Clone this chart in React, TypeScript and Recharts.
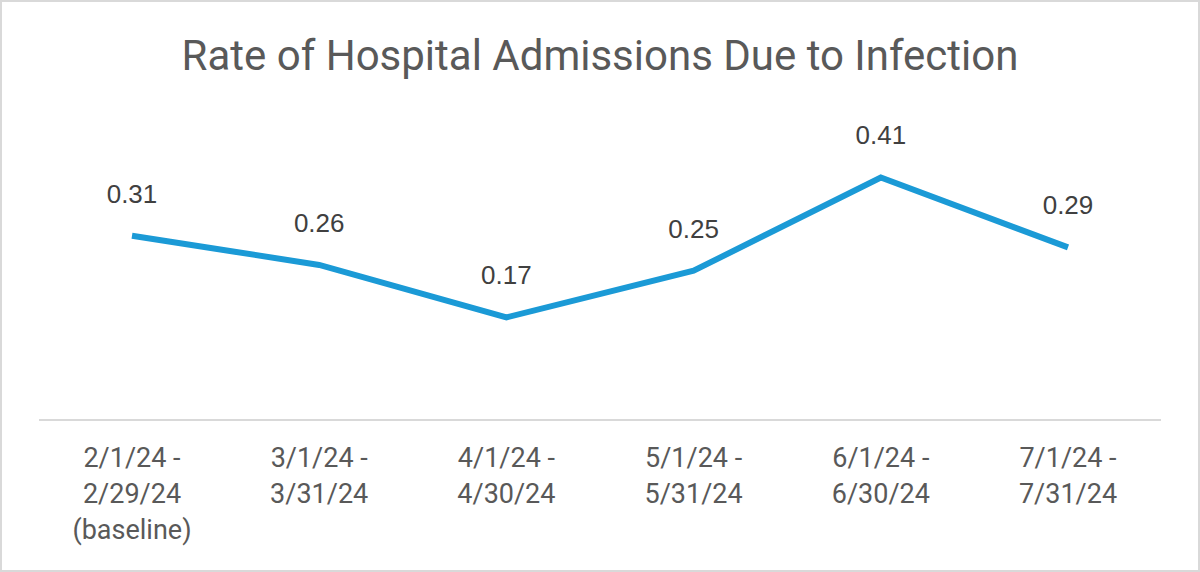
import React from 'react';
import { LineChart, Line, XAxis, YAxis, LabelList } from 'recharts';

const periods = ['feb', 'mar', 'apr', 'may', 'jun', 'jul'];
const periodLabels = [
  ['2/1/24 -', '2/29/24', '(baseline)'],
  ['3/1/24 -', '3/31/24'],
  ['4/1/24 -', '4/30/24'],
  ['5/1/24 -', '5/31/24'],
  ['6/1/24 -', '6/30/24'],
  ['7/1/24 -', '7/31/24'],
];
const rates = [0.31, 0.26, 0.17, 0.25, 0.41, 0.29];

const data = periods.map((p, i) => ({ period: p, rate: rates[i] }));

const FONT = 'Roboto, "Noto Sans", sans-serif';

function PeriodTick(props: any) {
  const { x, y, payload } = props;
  const lines = periodLabels[periods.indexOf(payload.value)] || [];
  return (
    <text x={x} y={y} textAnchor="middle" fill="#595959" fontSize={27} fontFamily={FONT}>
      {lines.map((l, i) => (
        <tspan key={i} x={x} dy={i === 0 ? 47 : 36}>
          {l}
        </tspan>
      ))}
    </text>
  );
}

export default function App() {
  return (
    <div
      style={{
        position: 'fixed',
        left: 0,
        top: 0,
        width: 1200,
        height: 572,
        boxSizing: 'border-box',
        border: '2px solid #d9d9d9',
        background: '#fff',
      }}
    >
      <div
        style={{
          position: 'absolute',
          left: 0,
          right: 0,
          top: 29,
          textAlign: 'center',
          fontFamily: FONT,
          fontSize: 42,
          color: '#595959',
          lineHeight: '50px',
        }}
      >
        Rate of Hospital Admissions Due to Infection
      </div>
      <LineChart
        width={1196}
        height={568}
        data={data}
        margin={{ top: 123, right: 37, left: 37, bottom: 0 }}
      >
        <XAxis
          dataKey="period"
          height={150}
          tickSize={0}
          tickMargin={0}
          tickLine={false}
          padding={{ left: 93, right: 93 }}
          axisLine={{ stroke: '#d9d9d9', strokeWidth: 2 }}
          tick={<PeriodTick />}
          interval={0}
        />
        <YAxis hide domain={[-0.006, 0.5]} />
        <Line
          type="linear"
          dataKey="rate"
          stroke="#1b9ad6"
          strokeWidth={6}
          dot={false}
          isAnimationActive={false}
        >
          <LabelList
            dataKey="rate"
            position="top"
            offset={33}
            fill="#404040"
            fontSize={26}
            fontFamily='"Liberation Sans", Arial, sans-serif'
          />
        </Line>
      </LineChart>
    </div>
  );
}
